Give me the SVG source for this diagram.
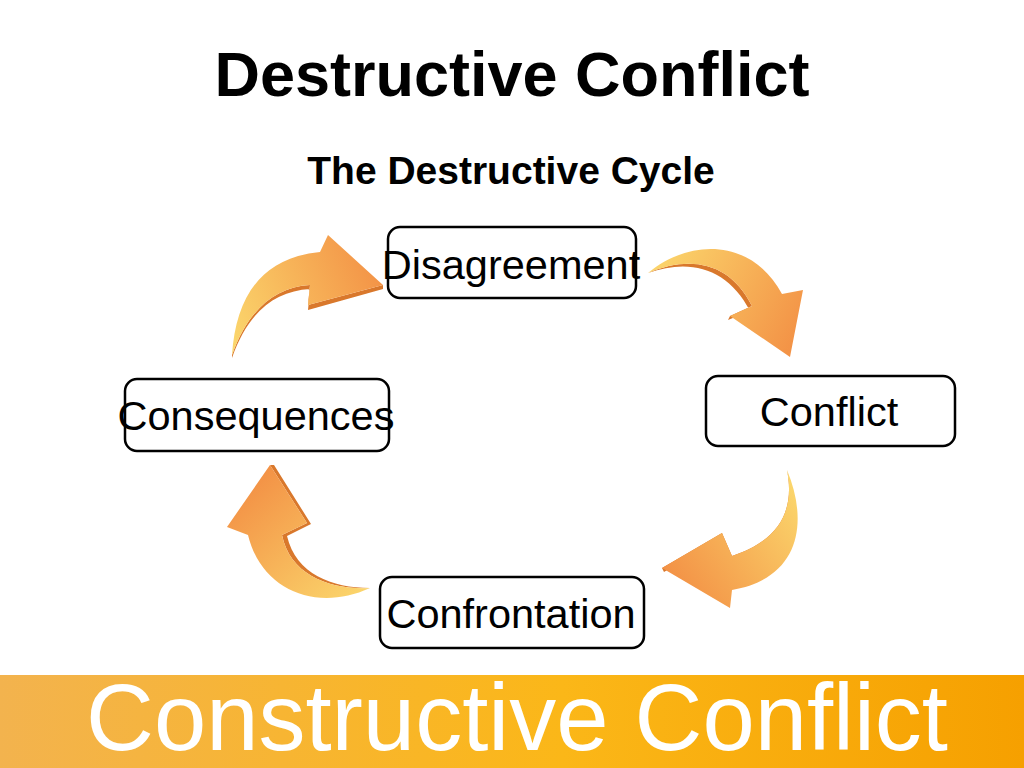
<svg xmlns="http://www.w3.org/2000/svg" width="1024" height="768" viewBox="0 0 1024 768">
<defs>
<style>
.box{fill:#fff;stroke:#000;stroke-width:2.5}
.lbl{font-family:"Liberation Sans",Arial,sans-serif;font-size:41.5px;fill:#000;text-anchor:middle}
.ttl{font-family:"Liberation Sans",Arial,sans-serif;font-weight:bold;fill:#000;text-anchor:middle}
.shadow{fill:#D9782C}
</style>
<linearGradient id="g1" gradientUnits="userSpaceOnUse" x1="232" y1="340" x2="383" y2="275"><stop offset="0" stop-color="#FBD66C"/><stop offset="1" stop-color="#F39246"/></linearGradient>
<linearGradient id="g2" gradientUnits="userSpaceOnUse" x1="648" y1="270" x2="795" y2="345"><stop offset="0" stop-color="#FBD66C"/><stop offset="1" stop-color="#F39246"/></linearGradient>
<linearGradient id="g3" gradientUnits="userSpaceOnUse" x1="790" y1="480" x2="665" y2="570"><stop offset="0" stop-color="#FBD66C"/><stop offset="1" stop-color="#F39246"/></linearGradient>
<linearGradient id="g4" gradientUnits="userSpaceOnUse" x1="370" y1="590" x2="265" y2="470"><stop offset="0" stop-color="#FBD66C"/><stop offset="1" stop-color="#F39246"/></linearGradient>
<linearGradient id="band" x1="0" y1="0" x2="1" y2="0"><stop offset="0" stop-color="#F3B34E"/><stop offset="0.55" stop-color="#FBB718"/><stop offset="1" stop-color="#F6A000"/></linearGradient>
</defs>
<rect width="1024" height="768" fill="#fff"/>
<text class="ttl" x="512" y="96" font-size="63">Destructive Conflict</text>
<text class="ttl" x="511" y="184" font-size="39">The Destructive Cycle</text>
<g id="connectors">
<g id="arrow-top-left">
<path class="shadow" d="M 232,358 C 248,312 275,291 310,289 L 308,310 L 383,289 L 383,285 L 308,305 L 310,285 C 275,287 248,310 232,355 Z"/>
<path fill="url(#g1)" d="M 232,355 C 236,298 260,258 320,252 L 328,235 L 383,285 L 308,305 L 310,285 C 275,287 248,310 232,355 Z"/>
</g>
<g id="arrow-top-right">
<path class="shadow" d="M 648,273 C 690,255 730,262 752,306 L 730,316 L 728,320 L 750,311 C 728,268 690,258 648,273 Z"/>
<path fill="url(#g2)" d="M 648,273 C 690,238 752,238 782,294 L 803,290 L 790,357 L 730,316 L 752,306 C 730,262 690,255 648,273 Z"/>
</g>
<g id="arrow-bottom-right">
<path class="shadow" d="M 787,470 C 795,510 780,540 732,556 L 722,533 L 662,568 L 664,572 L 720,538 L 730,561 C 782,544 798,512 787,470 Z"/>
<path fill="url(#g3)" d="M 787,470 C 808,520 802,578 732,590 L 730,608 L 662,568 L 722,533 L 732,556 C 780,540 795,510 787,470 Z"/>
</g>
<g id="arrow-bottom-left">
<path class="shadow" d="M 370,588 C 330,590 290,575 282,535 L 307,523 L 270,465 L 274,465 L 311,524 L 287,536 C 296,574 332,588 370,588 Z"/>
<path fill="url(#g4)" d="M 370,588 C 318,612 262,592 248,535 L 227,527 L 270,465 L 307,523 L 282,535 C 290,575 330,590 370,588 Z"/>
</g>
</g>
<g id="node-disagreement">
<rect class="box" x="388" y="227" width="248" height="71" rx="12"/>
<text class="lbl" x="511" y="279">Disagreement</text>
</g>
<g id="node-conflict">
<rect class="box" x="706" y="376" width="249" height="70" rx="12"/>
<text class="lbl" x="829" y="426">Conflict</text>
</g>
<g id="node-consequences">
<rect class="box" x="125" y="379" width="264" height="72" rx="12"/>
<text class="lbl" x="256" y="430">Consequences</text>
</g>
<g id="node-confrontation">
<rect class="box" x="380" y="577" width="264" height="71" rx="12"/>
<text class="lbl" x="511" y="628">Confrontation</text>
</g>
<rect x="0" y="675" width="1024" height="93" fill="url(#band)"/>
<text x="517" y="750" font-family="'Liberation Sans',Arial,sans-serif" font-size="94" fill="#fff" text-anchor="middle">Constructive Conflict</text>
</svg>
